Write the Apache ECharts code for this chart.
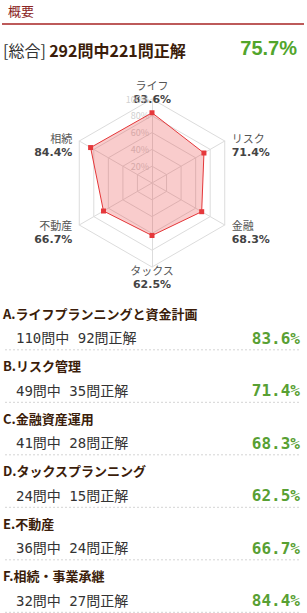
<!DOCTYPE html>
<html>
<head>
<meta charset="utf-8">
<script src="https://cdn.jsdelivr.net/npm/echarts@6/dist/echarts.min.js"></script>
<style>
html,body{margin:0;padding:0;background:#fff;}
#main{width:307px;height:613px;}
</style>
</head>
<body>
<div id="main"></div>
<script>
// ---- data ----
const sectionTitle = '概要';
const overallLabel = '[総合]';
const overallTotal = 292;
const overallCorrect = 221;
const overallRate = 75.7;

const categories = ['A.ライフプランニングと資金計画', 'B.リスク管理', 'C.金融資産運用', 'D.タックスプランニング', 'E.不動産', 'F.相続・事業承継'];
const shortNames = ['ライフ', 'リスク', '金融', 'タックス', '不動産', '相続'];
const totals = [110, 49, 41, 24, 36, 32];
const corrects = [92, 35, 28, 15, 24, 27];
const rates = [83.6, 71.4, 68.3, 62.5, 66.7, 84.4];
const tickLabels = ['0%', '20%', '40%', '60%', '80%', '100%'];

// ---- chart ----
const chart = echarts.init(document.getElementById('main'), null, {renderer: 'svg'});

const JP = '"Noto Sans CJK JP", "DejaVu Sans", sans-serif';
const GREEN = '#58a033';

// ECharts radar goes counter-clockwise; reorder so that display is clockwise
const order = [0, 5, 4, 3, 2, 1];
// per-position name gaps and top spacer (shifts the label block down)
const gapByIdx = {0: -7, 1: 8, 2: 8, 3: -4, 4: 8, 5: 8};
const spacerByIdx = {0: 0, 1: 16, 2: 6, 3: 0, 4: 6, 5: 16};

const indicator = order.map(function (i, k) {
  const ind = {name: shortNames[i], max: 100, min: 0, nameGap: gapByIdx[i], nameMoveOverlap: false};
  if (k === 0) {
    ind.axisLabel = {
      show: true, color: '#d0d0d0', fontSize: 9, margin: 3, fontFamily: JP,
      formatter: function (v) { return tickLabels[Math.round(v / 20)]; },
      showMinLabel: false
    };
  }
  return ind;
});

const graphics = [];
graphics.push({
  type: 'text', left: 8, top: 4,
  style: {text: sectionTitle, fill: '#8b2525', font: '13px ' + JP}
});
graphics.push({
  type: 'rect', shape: {x: 2, y: 23, width: 302, height: 2},
  style: {fill: '#bd5a5a'}
});
graphics.push({
  type: 'text', x: 3, y: 50,
  style: {
    text: '{a|' + overallLabel + '} {b|' + overallTotal + '問中' + overallCorrect + '問正解}',
    verticalAlign: 'middle',
    rich: {
      a: {fill: '#333', font: '16px ' + JP},
      b: {fill: '#3b1d0a', font: 'bold 16px ' + JP}
    }
  }
});
graphics.push({
  type: 'text', x: 297, y: 48,
  style: {
    text: overallRate.toFixed(1) + '%', fill: '#52a52b',
    font: 'bold 20px "Liberation Sans", Arial, sans-serif',
    align: 'right', verticalAlign: 'middle'
  }
});

categories.forEach(function (cat, i) {
  const ty = 313.3 + i * 52.5;
  graphics.push({
    type: 'text', x: 3, y: ty,
    style: {text: cat, fill: '#3b1d0a', font: 'bold 13px ' + JP, verticalAlign: 'middle'}
  });
  graphics.push({
    type: 'text', x: 16, y: ty + 25,
    style: {
      text: totals[i] + '問中 ' + corrects[i] + '問正解', fill: '#333',
      font: '14px "DejaVu Sans Mono", ' + JP, verticalAlign: 'middle'
    }
  });
  graphics.push({
    type: 'text', x: 300, y: ty + 25,
    style: {
      text: rates[i].toFixed(1) + '%', fill: GREEN,
      font: 'bold 16px "DejaVu Sans Mono", monospace', align: 'right', verticalAlign: 'middle'
    }
  });
  graphics.push({
    type: 'line', shape: {x1: 5, y1: ty + 36.5, x2: 301, y2: ty + 36.5},
    style: {stroke: '#d4d4d4', lineWidth: 1, lineDash: [2, 2]}
  });
});

chart.setOption({
  animation: false,
  backgroundColor: '#fff',
  radar: {
    center: [152, 183],
    radius: 84,
    startAngle: 90,
    splitNumber: 5,
    shape: 'polygon',
    nameMoveOverlap: false,
    indicator: indicator,
    axisName: {
      formatter: function (name) {
        const i = shortNames.indexOf(name);
        const sp = spacerByIdx[i];
        const pre = sp > 0 ? '{s' + sp + '| }\n' : '';
        return pre + '{a|' + name + '}\n{b|' + rates[i].toFixed(1) + '%}';
      },
      rich: {
        s16: {fontSize: 1, lineHeight: 16},
        s6: {fontSize: 1, lineHeight: 6},
        a: {color: '#555', fontSize: 11, fontFamily: JP, lineHeight: 14},
        b: {color: '#444', fontSize: 11, fontWeight: 'bold', fontFamily: '"DejaVu Sans", sans-serif', lineHeight: 14}
      }
    },
    axisLine: {lineStyle: {color: '#dcdcdc', width: 1}},
    splitLine: {lineStyle: {color: '#dcdcdc', width: 1}},
    splitArea: {show: false},
    axisTick: {show: false},
    axisLabel: {show: false}
  },
  series: [{
    type: 'radar',
    symbol: 'rect',
    symbolSize: 5,
    lineStyle: {color: '#e5383b', width: 1},
    itemStyle: {color: '#e5383b'},
    areaStyle: {color: 'rgba(230,50,50,0.36)'},
    data: [{value: order.map(function (i) { return rates[i]; })}]
  }],
  graphic: graphics
});
</script>
</body>
</html>
